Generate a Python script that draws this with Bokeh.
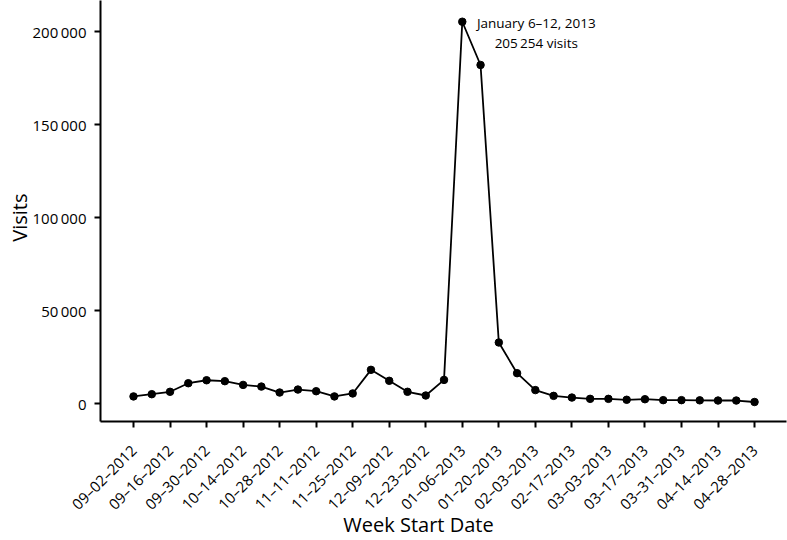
import math
from bokeh.plotting import figure
from bokeh.models import FixedTicker, Range1d, ColumnDataSource
from bokeh.embed import file_html
from bokeh.resources import INLINE
from bokeh.core.properties import value

# ---- data ----
week_labels = [
    "09–02–2012", "09–09–2012", "09–16–2012", "09–23–2012", "09–30–2012",
    "10–07–2012", "10–14–2012", "10–21–2012", "10–28–2012", "11–04–2012",
    "11–11–2012", "11–18–2012", "11–25–2012", "12–02–2012", "12–09–2012",
    "12–16–2012", "12–23–2012", "12–30–2012", "01–06–2013", "01–13–2013",
    "01–20–2013", "01–27–2013", "02–03–2013", "02–10–2013", "02–17–2013",
    "02–24–2013", "03–03–2013", "03–10–2013", "03–17–2013", "03–24–2013",
    "03–31–2013", "04–07–2013", "04–14–2013", "04–21–2013", "04–28–2013",
]
visits = [
    3800, 5000, 6300, 10900, 12500, 12000, 10000, 9100, 5900, 7500,
    6600, 3800, 5400, 18100, 12200, 6300, 4300, 12700, 205254, 182000,
    32800, 16300, 7200, 4100, 3200, 2500, 2500, 2000, 2300, 1800,
    1800, 1700, 1600, 1600, 800,
]
y_ticks = [0, 50000, 100000, 150000, 200000]
y_tick_labels = ["0", "50\u2009000", "100\u2009000", "150\u2009000", "200\u2009000"]
annotation_lines = ["January 6–12, 2013", "205\u2009254 visits"]
x_title = "Week Start Date"
y_title = "Visits"

FONT = "Open Sans"

x = list(range(len(visits)))
src = ColumnDataSource(dict(x=x, y=visits))

p = figure(width=787, height=540, output_backend="svg", toolbar_location=None,
           x_range=Range1d(-1.807, 35.75), y_range=Range1d(-9677, 216667),
           min_border_left=100, min_border_right=1, min_border_top=0,
           min_border_bottom=119)
p.outline_line_color = None
p.xgrid.visible = False
p.ygrid.visible = False
p.background_fill_color = "white"
p.border_fill_color = "white"

p.line("x", "y", source=src, line_color="black", line_width=1.8)
p.scatter("x", "y", source=src, size=7.5, fill_color="black", line_color="black")

# annotation anchored at peak
pk = max(range(len(visits)), key=lambda i: visits[i])
ann = ColumnDataSource(dict(x=[pk, pk], y=[visits[pk], visits[pk]],
                            t=annotation_lines, yo=[1, 21]))
p.text("x", "y", text="t", source=ann, x_offset=74, y_offset="yo",
       text_align="center", text_baseline="middle", text_font=value(FONT),
       text_font_size="13.5px", text_color="black")

# axes
even = [i for i in x if i % 2 == 0]
p.xaxis.ticker = FixedTicker(ticks=even)
p.xaxis.major_label_overrides = {i: week_labels[i] for i in even}
p.xaxis.major_label_orientation = math.pi / 4
p.yaxis.ticker = FixedTicker(ticks=y_ticks)
p.yaxis.major_label_overrides = {v: l for v, l in zip(y_ticks, y_tick_labels)}

for ax in (p.xaxis[0], p.yaxis[0]):
    ax.axis_line_color = "black"
    ax.axis_line_width = 2
    ax.major_tick_line_color = "black"
    ax.major_tick_line_width = 2
    ax.major_tick_in = 0
    ax.major_tick_out = 6
    ax.minor_tick_line_color = None
    ax.major_label_text_font = FONT
    ax.major_label_text_color = "black"
    ax.major_label_text_font_size = "15px"
    ax.axis_label_text_font = FONT
    ax.axis_label_text_font_size = "20px"
    ax.axis_label_text_font_style = "normal"
    ax.axis_label_text_color = "black"

p.yaxis.major_label_standoff = 8
p.xaxis.major_label_standoff = 20
# trailing spaces shift the centred titles to where the reference has them
p.xaxis.axis_label = x_title + "\u2003\u2003\u2002"
p.yaxis.axis_label = y_title + "\u2002\u2009"
p.xaxis.axis_label_standoff = -13
p.yaxis.axis_label_standoff = -3

open("out.html", "w").write(file_html(p, INLINE))
